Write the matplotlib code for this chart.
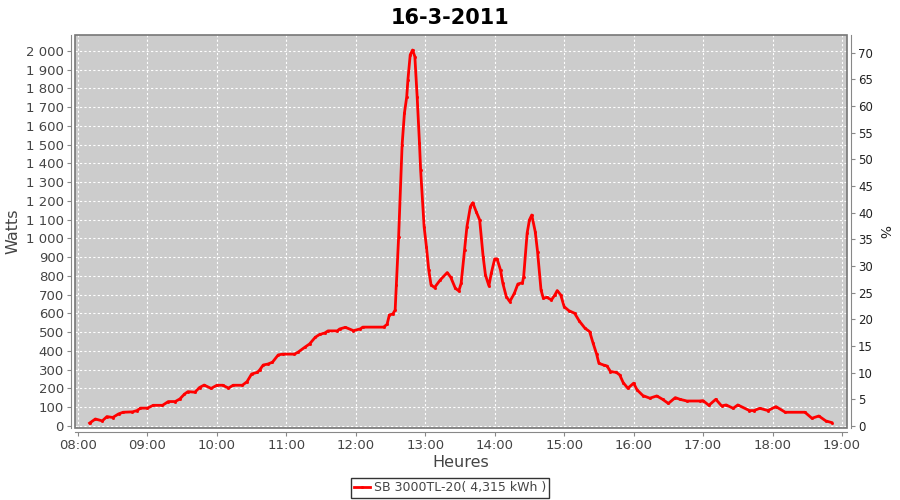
import matplotlib
matplotlib.use("Agg")
import matplotlib.pyplot as plt
import matplotlib.dates as mdates
import matplotlib.ticker as mticker
from matplotlib.patches import Rectangle
import pandas as pd

# readings of the inverter, time of day and AC power in W
times = ["08:10", "08:15", "08:21", "08:25", "08:30", "08:35", "08:39", "08:47",
         "08:51", "08:54", "09:00", "09:05", "09:13", "09:18", "09:24", "09:28",
         "09:32", "09:35", "09:41", "09:45", "09:49", "09:55", "10:00", "10:05",
         "10:10", "10:14", "10:22", "10:26", "10:30", "10:35", "10:37", "10:40",
         "10:44", "10:48", "10:53", "10:57", "11:07", "11:10", "11:16", "11:20",
         "11:25", "11:29", "11:33", "11:36", "11:44", "11:46", "11:51", "11:58",
         "12:04", "12:06", "12:24", "12:27", "12:29", "12:32", "12:34", "12:35",
         "12:37", "12:40", "12:42", "12:44", "12:45", "12:47", "12:49", "12:51",
         "12:53", "12:55", "12:56", "12:59", "13:01", "13:03", "13:05", "13:08",
         "13:13", "13:19", "13:22", "13:26", "13:29", "13:31", "13:34", "13:36",
         "13:39", "13:41", "13:44", "13:47", "13:50", "13:52", "13:55", "13:57",
         "14:00", "14:02", "14:05", "14:07", "14:10", "14:13", "14:17", "14:20",
         "14:24", "14:25", "14:28", "14:30", "14:32", "14:35", "14:37", "14:40",
         "14:42", "14:45", "14:49", "14:52", "14:54", "14:57", "15:00", "15:04",
         "15:09", "15:13", "15:18", "15:22", "15:25", "15:28", "15:30", "15:34",
         "15:37", "15:40", "15:45", "15:48", "15:51", "15:55", "16:00", "16:03",
         "16:08", "16:14", "16:20", "16:25", "16:30", "16:36", "16:40", "16:46",
         "16:57", "17:00", "17:05", "17:11", "17:16", "17:20", "17:26", "17:30",
         "17:40", "17:44", "17:49", "17:56", "18:03", "18:11", "18:28", "18:34",
         "18:40", "18:46", "18:51"]
watts = [15, 37, 27, 50, 45, 64, 73, 75,
         82, 95, 95, 110, 110, 130, 130, 144,
         170, 183, 180, 205, 218, 200, 217, 217,
         202, 217, 217, 236, 277, 286, 299, 325,
         330, 340, 379, 383, 383, 393, 420, 437,
         473, 489, 495, 507, 507, 517, 526, 508,
         518, 527, 527, 542, 592, 597, 619, 750,
         1010, 1499, 1668, 1756, 1845, 1979, 2005, 1970,
         1756, 1508, 1365, 1063, 956, 832, 752, 738,
         779, 818, 793, 734, 720, 761, 939, 1063,
         1170, 1191, 1143, 1099, 903, 805, 747, 814,
         891, 891, 832, 761, 690, 663, 708, 757,
         764, 796, 1028, 1099, 1125, 1036, 930, 725,
         681, 686, 672, 699, 722, 699, 636, 615,
         601, 560, 521, 503, 441, 384, 334, 325,
         320, 290, 286, 272, 231, 201, 228, 192,
         162, 148, 160, 142, 120, 151, 142, 133,
         133, 135, 110, 142, 107, 112, 94, 112,
         82, 82, 94, 82, 103, 73, 73, 41,
         53, 27, 18]

day = "2011-03-16"
x = pd.to_datetime([day + " " + t for t in times])

w_max = 2085
pct_per_watt = 70.3 / 2000

grey = "#444444"
plt.rcParams["font.family"] = "DejaVu Sans"

fig = plt.figure(figsize=(9, 5), dpi=100)
ax = fig.add_axes([75 / 900, 1 - 428 / 500, 772 / 900, 393 / 500])
ax.set_facecolor("#cccccc")

ax.plot(x, watts, color="#ff0000", lw=2, marker="s", ms=1,
        label="SB 3000TL-20( 4,315 kWh )")

ax.set_xlim(pd.Timestamp(day + " 07:57:25"), pd.Timestamp(day + " 19:04:20"))
ax.set_ylim(-11, w_max)

ax.xaxis.set_major_locator(mdates.HourLocator())
ax.xaxis.set_major_formatter(mdates.DateFormatter("%H:%M"))
ax.yaxis.set_major_locator(mticker.MultipleLocator(100))
ax.yaxis.set_major_formatter(
    mticker.FuncFormatter(lambda v, p: f"{int(v):,}".replace(",", " ")))

ax.grid(True, color="white", ls=(0, (2, 2)), lw=0.8)
ax.set_axisbelow(True)

for s in ["top", "right"]:
    ax.spines[s].set_visible(False)
for s in ["left", "bottom"]:
    ax.spines[s].set_position(("outward", 3))
    ax.spines[s].set_color("#888888")
ax.add_patch(Rectangle((0, 0), 1, 1, transform=ax.transAxes, fill=False,
                       ec="#777777", lw=1.2, zorder=5, clip_on=False))

ax.tick_params(axis="both", colors="#888888", labelcolor=grey,
               labelsize=9.5, length=3, width=0.8, pad=2)

ax.set_xlabel("Heures", fontsize=11.5, color=grey, labelpad=2)
ax.set_ylabel("Watts", fontsize=11.5, color=grey, labelpad=4)

# right axis in percent
ax2 = ax.twinx()
lo, hi = ax.get_ylim()
ax2.set_ylim(lo * pct_per_watt, hi * pct_per_watt)
ax2.yaxis.set_major_locator(mticker.MultipleLocator(5))
for s in ["top", "left", "bottom"]:
    ax2.spines[s].set_visible(False)
ax2.spines["right"].set_position(("outward", 3))
ax2.spines["right"].set_color("#888888")
ax2.tick_params(axis="y", colors="#888888", labelcolor="#222222",
                labelsize=8.5, length=3, width=0.8, pad=2)
ax2.set_ylabel("%", fontsize=10, color="#222222", labelpad=2, rotation=270,
               va="bottom")

fig.suptitle("16-3-2011", fontsize=15, fontweight="bold", y=0.985)

leg = ax.legend(loc="center", bbox_to_anchor=(450 / 900, 1 - 488 / 500),
                bbox_transform=fig.transFigure, frameon=True, fancybox=False,
                fontsize=9, handlelength=1.3, handletextpad=0.3,
                borderpad=0.25, borderaxespad=0, labelcolor=grey)
leg.get_frame().set_edgecolor("black")
leg.get_frame().set_linewidth(1)

fig.savefig("out.png", dpi=100)
